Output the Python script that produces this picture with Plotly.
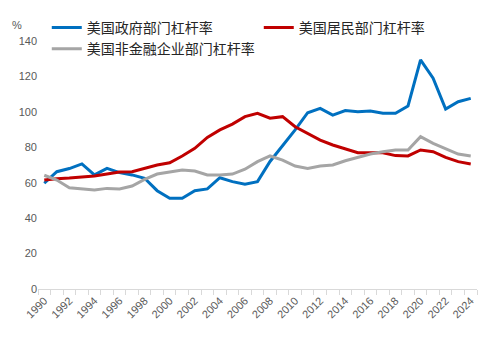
import plotly.graph_objects as go

years = list(range(1990, 2025))
gov = [59.7, 66.2, 68.0, 70.6, 64.4, 68.1, 65.7, 64.4, 62.5, 55.5, 51.2, 51.2, 55.5, 56.5, 62.8, 60.6, 59.1, 60.6,
       72.0, 80.7, 89.8, 99.5, 102.0, 98.2, 100.7, 100.1, 100.5, 99.2, 99.2, 103.3, 129.3, 119.0, 101.6, 105.7, 107.6]
hh = [61.5, 62.3, 62.6, 63.0, 63.8, 64.9, 66.0, 66.2, 68.1, 70.0, 71.3, 75.1, 79.4, 85.6, 89.8, 93.1, 97.3, 99.2,
      96.4, 97.3, 91.6, 87.9, 84.1, 81.3, 78.9, 76.9, 76.9, 76.9, 75.3, 75.1, 78.5, 77.5, 74.3, 71.9, 70.6]
corp = [64.2, 61.5, 57.2, 56.5, 55.9, 56.8, 56.5, 58.1, 61.9, 64.9, 66.2, 67.2, 66.6, 64.4, 64.4, 64.9, 67.6, 71.9,
        75.1, 72.8, 69.4, 68.1, 69.4, 70.0, 72.4, 74.3, 76.2, 77.5, 78.5, 78.5, 86.0, 82.2, 79.4, 76.2, 75.1]
names = ["美国政府部门杠杆率", "美国居民部门杠杆率", "美国非金融企业部门杠杆率"]
colors = ["#0070C0", "#C00000", "#A5A5A5"]
label_years = list(range(1990, 2025, 2))
yticks = list(range(0, 141, 20))

H, T, B = 342, 2, 53
paper_h = H - T - B
plot_top_px = 41
ydom_top = (H - B - plot_top_px) / paper_h

fig = go.Figure()
for name, vals, c in zip(names, [gov, hh, corp], colors):
    fig.add_trace(go.Scatter(x=years, y=vals, name=name, mode="lines",
                             line=dict(color=c, width=3)))

fig.update_layout(
    width=494, height=H,
    margin=dict(l=38, r=17, t=T, b=B, autoexpand=False),
    paper_bgcolor="white", plot_bgcolor="white",
    font=dict(family="Liberation Sans, Arial, sans-serif", size=11, color="#595959"),
    showlegend=True,
    legend=dict(orientation="h", x=0.02, y=(H - B - T - 10) / paper_h, xanchor="left", yanchor="top",
                entrywidth=167, tracegroupgap=0,
                font=dict(family="Noto Sans CJK SC", size=14, color="#262626"),
                bgcolor="rgba(0,0,0,0)"),
    xaxis=dict(range=[1989.5, 2024.5], tickvals=label_years, ticktext=[str(y) for y in label_years],
               tickangle=-45, ticks="", showgrid=False, zeroline=False, automargin=False,
               showline=True, linecolor="#D9D9D9", linewidth=1,
               minor=dict(tickvals=[y + 0.5 for y in range(1989, 2025)], ticks="outside",
                          ticklen=5, tickcolor="#D9D9D9", showgrid=False),
               tickfont=dict(size=11, color="#595959")),
    yaxis=dict(range=[0, 140], domain=[0, ydom_top], tickvals=yticks, showgrid=False, zeroline=False,
               automargin=False, showline=False, ticks="", tickfont=dict(size=11, color="#595959")),
)
fig.add_annotation(text="%", xref="paper", yref="paper", x=-0.048, y=(H - B - 25) / paper_h,
                   showarrow=False, xanchor="center", yanchor="middle",
                   font=dict(size=11, color="#595959"))

fig.write_html("out.html")
